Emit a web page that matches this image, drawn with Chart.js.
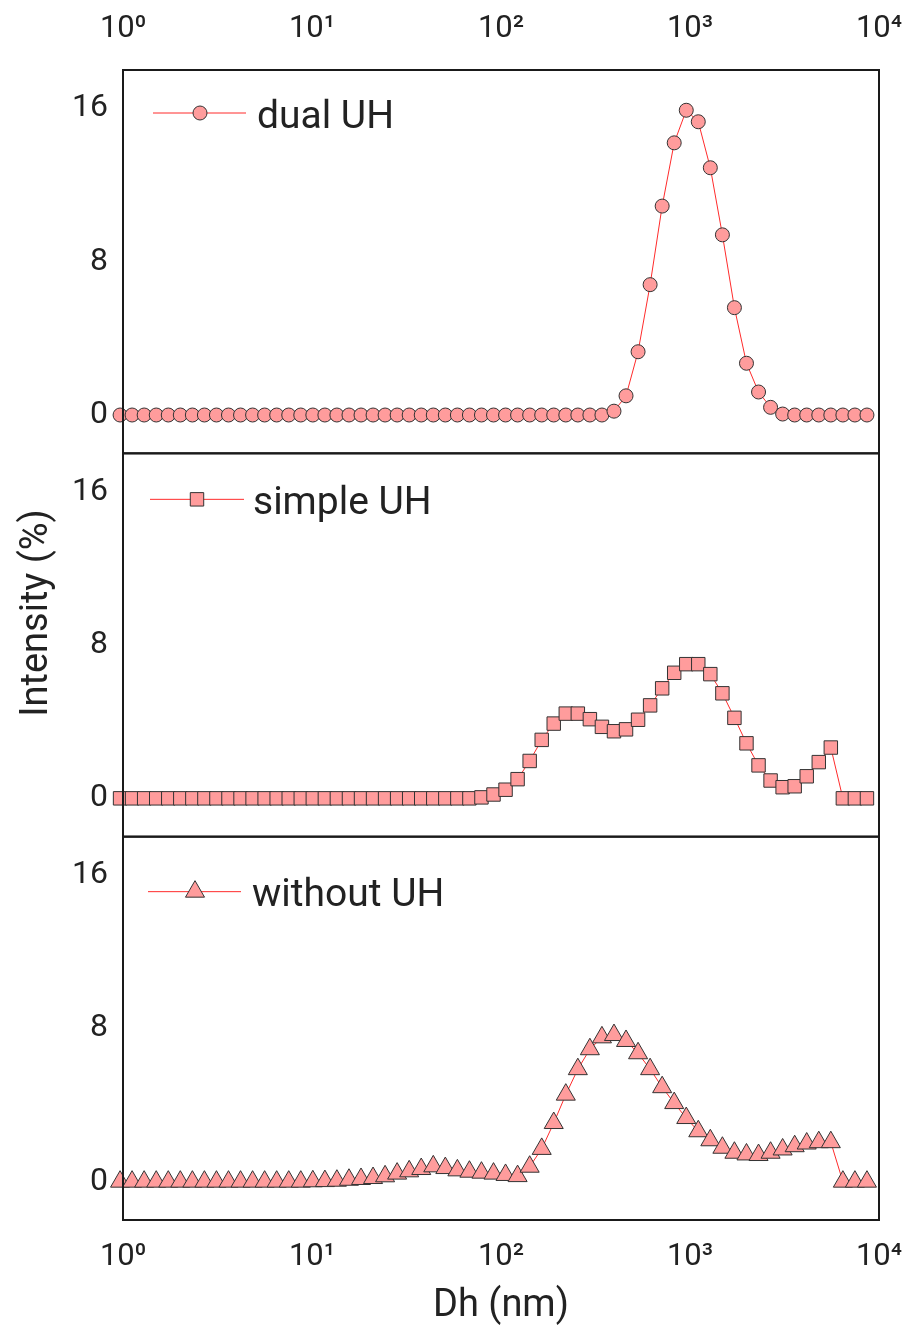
<!DOCTYPE html>
<html>
<head>
<meta charset="utf-8">
<title>DLS intensity distributions</title>
<script src="https://cdn.jsdelivr.net/npm/chart.js@4.4.1/dist/chart.umd.min.js"></script>
<style>
  html, body { margin: 0; padding: 0; background: #fff; }
  canvas { display: block; }
</style>
</head>
<body>
<canvas id="dls" width="911" height="1333"></canvas>
<script>
// size classes (nm)
const sizes = [
  0.9649, 1.117, 1.294, 1.499, 1.736, 2.010, 2.328, 2.696, 3.122, 3.615, 4.187, 4.849, 5.615, 6.503, 7.531, 8.721,
  10.10, 11.70, 13.54, 15.69, 18.17, 21.04, 24.36, 28.21, 32.67, 37.84, 43.82, 50.75, 58.77, 68.06, 78.82, 91.28,
  105.7, 122.4, 141.8, 164.2, 190.1, 220.2, 255.0, 295.3, 342.0, 396.1, 458.7, 531.2, 615.1, 712.4, 825.0, 955.4,
  1106, 1281, 1484, 1718, 1990, 2305, 2669, 3091, 3580, 4145, 4801, 5560, 6439, 7456, 8635
];

// intensity (%)
const dualUH = [
  0, 0, 0, 0, 0, 0, 0, 0, 0, 0, 0, 0, 0, 0, 0, 0,
  0, 0, 0, 0, 0, 0, 0, 0, 0, 0, 0, 0, 0, 0, 0, 0,
  0, 0, 0, 0, 0, 0, 0, 0, 0, 0.2, 1.0, 3.3, 6.8, 10.9, 14.2, 15.9,
  15.3, 12.9, 9.4, 5.6, 2.7, 1.2, 0.4, 0.05, 0, 0, 0, 0, 0, 0, 0
];
const simpleUH = [
  0, 0, 0, 0, 0, 0, 0, 0, 0, 0, 0, 0, 0, 0, 0, 0,
  0, 0, 0, 0, 0, 0, 0, 0, 0, 0, 0, 0, 0, 0, 0.05, 0.2,
  0.45, 1.0, 1.95, 3.05, 3.9, 4.42, 4.42, 4.13, 3.73, 3.5, 3.6, 4.1, 4.85, 5.74, 6.55, 7.0,
  7.0, 6.48, 5.48, 4.2, 2.87, 1.72, 0.93, 0.58, 0.63, 1.15, 1.89, 2.65, 0, 0, 0
];
const withoutUH = [
  0, 0, 0, 0, 0, 0, 0, 0, 0, 0, 0, 0, 0, 0, 0, 0,
  0.02, 0.03, 0.05, 0.1, 0.14, 0.19, 0.28, 0.42, 0.54, 0.66, 0.8, 0.71, 0.59, 0.52, 0.47, 0.42,
  0.35, 0.29, 0.78, 1.71, 3.06, 4.54, 5.87, 6.91, 7.53, 7.65, 7.34, 6.70, 5.87, 4.93, 4.10, 3.32,
  2.63, 2.16, 1.77, 1.51, 1.42, 1.39, 1.51, 1.68, 1.85, 1.99, 2.06, 2.06, 0, 0, 0
];

const seriesNames = ['dual UH', 'simple UH', 'without UH'];
const xTicks = [1, 10, 100, 1000, 10000];
const xTickLabels = ['10⁰', '10¹', '10²', '10³', '10⁴'];
const yTicks = [0, 8, 16];

const ink = '#222';
const fill = '#ff9c9c';
const toPoints = ys => sizes.map((x, i) => ({ x: x, y: ys[i] }));

function series(label, ys, axis, style, radius) {
  return {
    label: label,
    data: toPoints(ys),
    yAxisID: axis,
    showLine: true,
    borderColor: '#ff2b2b',
    borderWidth: 1,
    backgroundColor: fill,
    pointStyle: style,
    pointRadius: radius,
    pointHoverRadius: radius,
    pointBackgroundColor: fill,
    pointBorderColor: '#333',
    pointBorderWidth: 1,
    clip: false
  };
}

function panelAxis() {
  return {
    type: 'linear',
    position: 'left',
    stack: 'panels',
    stackWeight: 1,
    min: -2,
    max: 18,
    grid: { display: false, drawTicks: false },
    border: { display: false },
    ticks: { color: ink, font: { family: 'Roboto', size: 32 }, padding: 15 },
    afterBuildTicks: s => { s.ticks = yTicks.map(v => ({ value: v })); },
    afterFit: s => { s.width = 123; }
  };
}

function sizeAxis(position, pad, height) {
  return {
    type: 'logarithmic',
    position: position,
    min: 1,
    max: 10000,
    grid: { display: false, drawTicks: false },
    border: { display: false },
    ticks: {
      color: ink,
      font: { family: 'Roboto', size: 31 },
      padding: pad,
      maxRotation: 0,
      autoSkip: false,
      callback: v => xTickLabels[xTicks.indexOf(v)]
    },
    afterBuildTicks: s => { s.ticks = xTicks.map(v => ({ value: v })); },
    afterFit: s => {
      s.height = height;
      // end labels may hang over the frame, keep the plot width fixed
      s.paddingLeft = 0;
      s.paddingRight = 0;
    }
  };
}

// frame around each panel, drawn over the marks like the original
const panelFrames = {
  id: 'panelFrames',
  afterDatasetsDraw(chart) {
    const { ctx, chartArea } = chart;
    ctx.save();
    ctx.strokeStyle = '#1a1a1a';
    ctx.lineWidth = 2;
    ['y1', 'y2', 'y3'].forEach(id => {
      const s = chart.scales[id];
      ctx.strokeRect(chartArea.left, s.top, chartArea.right - chartArea.left, s.bottom - s.top);
    });
    ctx.restore();
  }
};

// one legend entry inside each panel
const panelLegends = {
  id: 'panelLegends',
  afterDatasetsDraw(chart, args, opts) {
    const ctx = chart.ctx;
    chart.data.datasets.forEach((ds, i) => {
      const spot = opts.spots[i];
      const y = chart.scales[ds.yAxisID].top + spot.dy;
      ctx.save();
      ctx.strokeStyle = ds.borderColor;
      ctx.lineWidth = 1;
      ctx.beginPath();
      ctx.moveTo(spot.x0, y);
      ctx.lineTo(spot.x1, y);
      ctx.stroke();
      ctx.fillStyle = ds.pointBackgroundColor;
      ctx.strokeStyle = ds.pointBorderColor;
      ctx.lineWidth = ds.pointBorderWidth;
      Chart.helpers.drawPoint(ctx, {
        pointStyle: ds.pointStyle, radius: ds.pointRadius, rotation: 0, borderWidth: ds.pointBorderWidth
      }, spot.mx, y);
      ctx.fillStyle = ink;
      ctx.font = '39px Roboto';
      ctx.textAlign = 'left';
      ctx.textBaseline = 'alphabetic';
      ctx.fillText(ds.label, spot.tx, y + 14.5);
      ctx.restore();
    });
  }
};

// shared y title
const yTitle = {
  id: 'yTitle',
  afterDraw(chart, args, opts) {
    const ctx = chart.ctx;
    ctx.save();
    ctx.translate(opts.x, opts.y);
    ctx.rotate(-Math.PI / 2);
    ctx.fillStyle = ink;
    ctx.font = '38px Roboto';
    ctx.textAlign = 'center';
    ctx.textBaseline = 'alphabetic';
    ctx.fillText(opts.text, 0, 0);
    ctx.restore();
  }
};

new Chart(document.getElementById('dls'), {
  type: 'scatter',
  data: {
    datasets: [
      series(seriesNames[0], dualUH, 'y1', 'circle', 7),
      series(seriesNames[1], simpleUH, 'y2', 'rect', 9.5),
      series(seriesNames[2], withoutUH, 'y3', 'triangle', 11)
    ]
  },
  options: {
    responsive: false,
    animation: false,
    layout: { padding: { left: 0, right: 32, top: 0, bottom: 0 } },
    scales: {
      x: Object.assign(sizeAxis('bottom', 19, 113), {
        title: {
          display: true,
          text: 'Dh (nm)',
          color: ink,
          font: { family: 'Roboto', size: 38 },
          padding: { top: 0, bottom: 4 }
        }
      }),
      x2: sizeAxis('top', 22, 70),
      // stacked left axes are laid out last-first, so the top panel comes last
      y3: panelAxis(),
      y2: panelAxis(),
      y1: panelAxis()
    },
    plugins: {
      legend: { display: false },
      tooltip: { enabled: false },
      panelLegends: {
        spots: [
          { dy: 43, x0: 153, x1: 246, mx: 200, tx: 257 },
          { dy: 46, x0: 150, x1: 244, mx: 197, tx: 253 },
          { dy: 55, x0: 148, x1: 241, mx: 195, tx: 252 }
        ]
      },
      yTitle: { text: 'Intensity (%)', x: 46.5, y: 613 }
    }
  },
  plugins: [panelFrames, panelLegends, yTitle]
});
</script>
</body>
</html>
